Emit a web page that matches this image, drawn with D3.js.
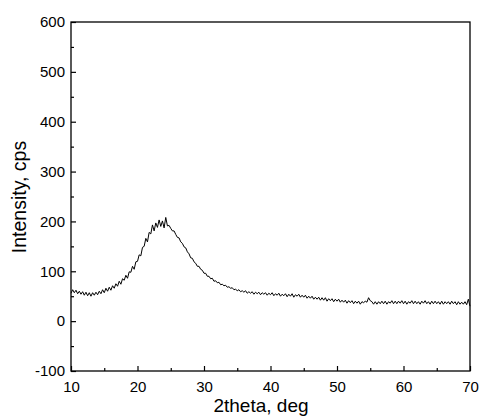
<!DOCTYPE html>
<html>
<head>
<meta charset="utf-8">
<script src="https://cdn.jsdelivr.net/npm/d3@7"></script>
<style>
  body { margin: 0; background: #fff; }
  text { font-family: "Liberation Sans", Arial, sans-serif; fill: #000; }
</style>
</head>
<body>
<div id="chart"></div>
<script>
// XRD scan, 10..70 deg at 0.25 deg steps (four readings per degree)
var angleStart = 10, angleStep = 0.25;
var intensity = [
  56, 63, 57, 62,   55, 60, 54, 59,   52, 58, 51, 57,   50, 57, 52, 58,   // 10-13
  53, 60, 55, 63,   57, 66, 60, 68,   62, 71, 66, 75,   70, 80, 74, 85,   // 14-17
  82, 92, 86, 99,   98, 110, 104, 119,   120, 133, 131, 148,   150, 166, 159, 178,   // 18-21
  175, 193, 181, 197,   188, 203, 190, 201,   187, 208, 191, 192,   186, 181, 181, 174,   // 22-25
  168, 167, 159, 156,   149, 147, 139, 135,   127, 126, 119, 116,   110, 110, 104, 102,   // 26-29
  96, 96, 90, 90,   85, 86, 80, 81,   77, 78, 73, 74,   71, 72, 68, 69,   // 30-33
  66, 67, 63, 64,   61, 63, 59, 61,   58, 61, 56, 59,   56, 59, 54, 58,   // 34-37
  55, 58, 53, 57,   54, 57, 52, 56,   53, 57, 51, 55,   52, 56, 50, 54,   // 38-41
  51, 55, 49, 54,   50, 55, 48, 53,   50, 54, 48, 52,   48, 52, 46, 50,   // 42-45
  46, 50, 44, 48,   44, 48, 42, 47,   42, 47, 40, 45,   41, 45, 39, 44,   // 46-49
  40, 44, 38, 42,   38, 42, 36, 41,   37, 41, 35, 40,   36, 40, 34, 39,   // 50-53
  37, 40, 38, 47,   41, 39, 34, 39,   34, 39, 35, 40,   35, 40, 34, 39,   // 54-57
  36, 41, 35, 40,   35, 40, 36, 41,   35, 40, 34, 39,   36, 41, 35, 40,   // 58-61
  35, 39, 34, 40,   36, 41, 35, 39,   34, 40, 35, 40,   35, 39, 34, 40,   // 62-65
  34, 39, 35, 39,   34, 40, 35, 39,   33, 39, 34, 38,   34, 39, 33, 44,   // 66-69
  30                                                                      // 70
];
var xTicks = [10, 20, 30, 40, 50, 60, 70];
var xMinor = [15, 25, 35, 45, 55, 65];
var yTicks = [-100, 0, 100, 200, 300, 400, 500, 600];
var yMinor = [-50, 50, 150, 250, 350, 450, 550];

var margin = {top: 22, right: 9, bottom: 47, left: 71},
    width = 479 - margin.left - margin.right,
    height = 418 - margin.top - margin.bottom;

var svg = d3.select("#chart")
  .append("svg")
  .attr("width", 479)
  .attr("height", 418)
  .append("g")
  .attr("transform", "translate(" + margin.left + "," + margin.top + ")");

var x = d3.scaleLinear().domain([10, 70]).range([0, width]);
var y = d3.scaleLinear().domain([-100, 600]).range([height, 0]);

var data = intensity.map(function(v, i) {
  return {a: angleStart + i * angleStep, v: v};
});

// bottom axis, ticks pointing in
svg.append("g")
  .attr("transform", "translate(0," + height + ")")
  .call(d3.axisBottom(x).tickValues(xTicks).tickSize(-5).tickPadding(10)
    .tickFormat(function(d) { return String(d); }));
svg.append("g")
  .attr("transform", "translate(0," + height + ")")
  .call(d3.axisBottom(x).tickValues(xMinor).tickSize(-3).tickFormat(""));

// left axis
svg.append("g")
  .call(d3.axisLeft(y).tickValues(yTicks).tickSize(-5).tickPadding(6)
    .tickFormat(function(d) { return String(d); }));
svg.append("g")
  .call(d3.axisLeft(y).tickValues(yMinor).tickSize(-3).tickFormat(""));

svg.selectAll(".domain").remove();
svg.selectAll(".tick line").attr("stroke", "#000").attr("stroke-width", 1.2);
svg.selectAll(".tick text")
  .style("font-family", "'Liberation Sans', Arial, sans-serif")
  .style("font-size", "15px")
  .attr("fill", "#000");

// the trace
var line = d3.line()
  .x(function(d) { return x(d.a); })
  .y(function(d) { return y(d.v); });

svg.append("path")
  .datum(data)
  .attr("fill", "none")
  .attr("stroke", "#000")
  .attr("stroke-width", 1)
  .attr("d", line);

// frame
svg.append("rect")
  .attr("x", 0).attr("y", 0)
  .attr("width", width).attr("height", height)
  .attr("fill", "none")
  .attr("stroke", "#000")
  .attr("stroke-width", 1.3);

// axis titles
svg.append("text")
  .attr("x", 261 - margin.left)
  .attr("y", 412 - margin.top)
  .style("text-anchor", "middle")
  .style("font-size", "19px")
  .text("2theta, deg");

svg.append("text")
  .attr("transform", "rotate(-90)")
  .attr("x", -(197 - margin.top))
  .attr("y", 26 - margin.left)
  .style("text-anchor", "middle")
  .style("font-size", "19.5px")
  .text("Intensity, cps");
</script>
</body>
</html>
